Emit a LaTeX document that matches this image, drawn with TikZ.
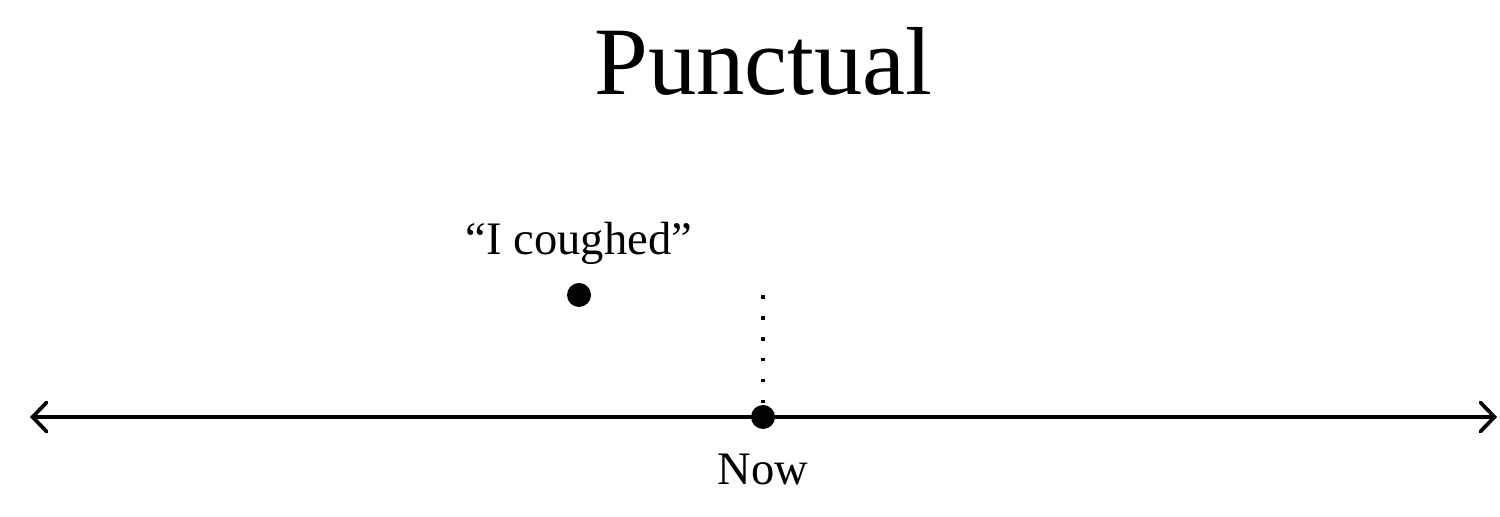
\documentclass[tikz,border=0pt]{standalone}
\usepackage{fontspec}
\setmainfont{Liberation Serif}
\usetikzlibrary{arrows.meta}
\tikzset{
  axisline/.style={line width=2.1pt, {Straight Barb[length=0.28cm,width=0.58cm,line cap=round]}-{Straight Barb[length=0.28cm,width=0.58cm,line cap=round]}},
  event/.style={circle, fill=black, inner sep=0pt, minimum size=0.48cm},
  lbl/.style={anchor=base, inner sep=0pt},
  guide/.style={line width=2.1pt, dash pattern=on 2.1pt off 9.8pt},
}
\begin{document}
\begin{tikzpicture}
\useasboundingbox (0,0) rectangle (30,10.34);
\node[lbl, font=\fontsize{55}{62}\selectfont] (title) at (15.27,8.44) {Punctual};
\coordinate (L) at (0.6,2.0);
\coordinate (R) at (29.94,2.0);
\draw[axisline] (L) -- (R);
\node[event] (now) at (15.26,2.0) {};
\node[event] (cough) at (11.58,4.44) {};
\coordinate (top) at (15.26,4.44);
\draw[guide] (top) -- (now.north);
\node[lbl, font=\fontsize{26.5}{30}\selectfont] (cl) at (11.58,5.24) {“I coughed”};
\node[lbl, font=\fontsize{26.5}{30}\selectfont] (nl) at (15.26,0.64) {Now};
\end{tikzpicture}
\end{document}
